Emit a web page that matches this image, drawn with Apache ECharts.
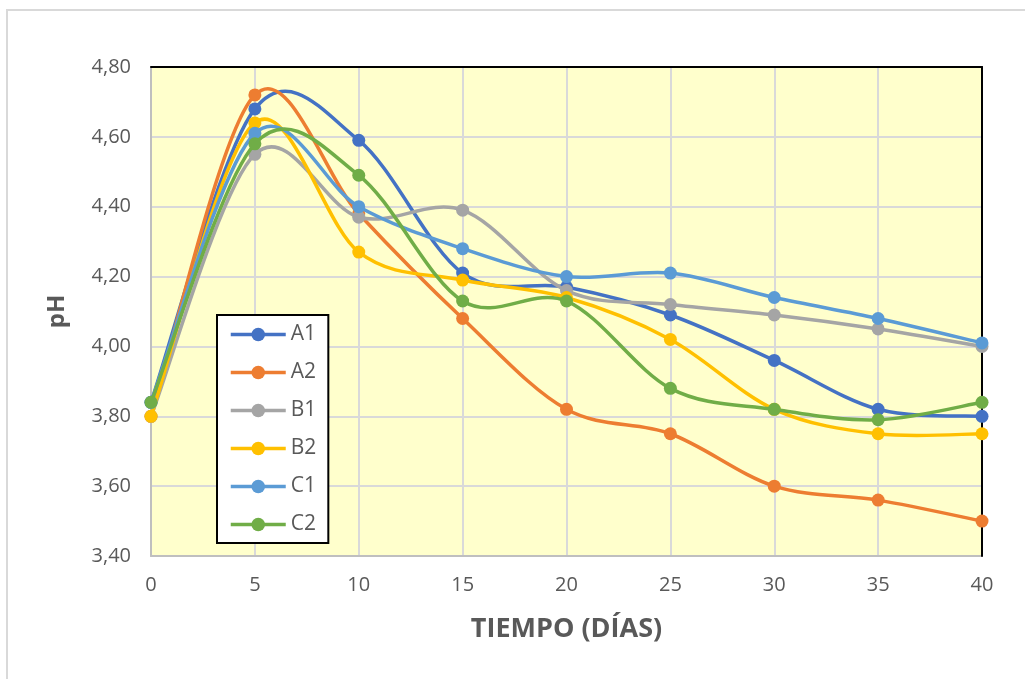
<!DOCTYPE html>
<html>
<head>
<meta charset="utf-8">
<script src="https://cdn.jsdelivr.net/npm/echarts@6/dist/echarts.min.js"></script>
<style>
  html, body { margin: 0; padding: 0; background: #fff; }
  #chart { width: 1025px; height: 679px; }
</style>
</head>
<body>
<div id="chart"></div>
<script>
// Sampling days
const days = [0, 5, 10, 15, 20, 25, 30, 35, 40];

// pH readings per treatment
const A1 = [3.84, 4.68, 4.59, 4.21, 4.17, 4.09, 3.96, 3.82, 3.80];
const A2 = [3.80, 4.72, 4.38, 4.08, 3.82, 3.75, 3.60, 3.56, 3.50];
const B1 = [3.80, 4.55, 4.37, 4.39, 4.16, 4.12, 4.09, 4.05, 4.00];
const B2 = [3.80, 4.64, 4.27, 4.19, 4.14, 4.02, 3.82, 3.75, 3.75];
const C1 = [3.84, 4.61, 4.40, 4.28, 4.20, 4.21, 4.14, 4.08, 4.01];
const C2 = [3.84, 4.58, 4.49, 4.13, 4.13, 3.88, 3.82, 3.79, 3.84];

const seriesNames = ['A1', 'A2', 'B1', 'B2', 'C1', 'C2'];
const seriesValues = [A1, A2, B1, B2, C1, C2];
const colors = ['#4472C4', '#ED7D31', '#A5A5A5', '#FFC000', '#5B9BD5', '#70AD47'];

const font = '"Open Sans", Lato, "DejaVu Sans", sans-serif';
const textGray = '#595959';
const LINE_W = 3.5;

// Smooth curve through the points (Catmull-Rom as cubic Bezier segments),
// positioned with the chart's own axis scales via api.coord.
function curveRenderer(values, color) {
  return function (params, api) {
    if (params.dataIndex !== 0) return null;
    const p = days.map((d, j) => api.coord([d, values[j]]));
    const n = p.length;
    const children = [];
    for (let j = 0; j < n - 1; j++) {
      const p0 = p[Math.max(j - 1, 0)];
      const p1 = p[j];
      const p2 = p[j + 1];
      const p3 = p[Math.min(j + 2, n - 1)];
      children.push({
        type: 'bezierCurve',
        shape: {
          x1: p1[0], y1: p1[1],
          cpx1: p1[0] + (p2[0] - p0[0]) / 6, cpy1: p1[1] + (p2[1] - p0[1]) / 6,
          cpx2: p2[0] - (p3[0] - p1[0]) / 6, cpy2: p2[1] - (p3[1] - p1[1]) / 6,
          x2: p2[0], y2: p2[1]
        },
        style: { stroke: color, lineWidth: LINE_W, fill: 'none', lineCap: 'round' }
      });
    }
    return { type: 'group', children: children };
  };
}

const series = [];
seriesNames.forEach((name, i) => {
  const pts = days.map((d, j) => [d, seriesValues[i][j]]);
  series.push({
    type: 'custom',
    name: name + ' curva',
    renderItem: curveRenderer(seriesValues[i], colors[i]),
    data: pts,
    encode: { x: 0, y: 1 },
    silent: true,
    z: 2 + i * 2
  });
  series.push({
    name: name,
    type: 'line',
    symbol: 'circle',
    symbolSize: 13,
    data: pts,
    lineStyle: { width: LINE_W, color: colors[i], opacity: 0 },
    itemStyle: { color: colors[i] },
    z: 3 + i * 2
  });
});

// Plain frame axes for the dark top and right edges of the plot area
const frameAxis = {
  axisLine: { show: true, onZero: false, lineStyle: { color: '#000', width: 2 } },
  axisTick: { show: false },
  axisLabel: { show: false },
  splitLine: { show: false }
};

const chart = echarts.init(document.getElementById('chart'), null, { renderer: 'canvas' });

chart.setOption({
  animation: false,
  color: colors,
  textStyle: { fontFamily: font },
  graphic: [{
    type: 'rect',
    shape: { x: 7, y: 10, width: 1040, height: 700 },
    style: { fill: 'none', stroke: '#D9D9D9', lineWidth: 2 },
    silent: true,
    z: -10
  }],
  grid: {
    left: 151, right: 43, top: 67, bottom: 123,
    show: true,
    backgroundColor: '#FFFFCC',
    borderColor: '#000',
    borderWidth: 0
  },
  legend: {
    orient: 'vertical',
    left: 217,
    top: 315,
    backgroundColor: '#fff',
    borderColor: '#000',
    borderWidth: 2,
    padding: [9, 12, 8, 12],
    itemWidth: 55,
    itemHeight: 17,
    itemGap: 17,
    lineStyle: { width: LINE_W, opacity: 1 },
    textStyle: { fontFamily: font, fontSize: 21, color: textGray },
    data: seriesNames
  },
  xAxis: [{
    type: 'value',
    min: 0, max: 40, interval: 5,
    name: 'TIEMPO (DÍAS)',
    nameLocation: 'middle',
    nameGap: 60,
    nameTextStyle: { fontFamily: font, fontSize: 27, fontWeight: 'bold', color: textGray },
    axisLine: { show: true, onZero: false, lineStyle: { color: '#BFBFBF', width: 2 } },
    axisTick: { show: false },
    axisLabel: { fontFamily: font, fontSize: 20, color: textGray, margin: 19 },
    splitLine: { show: true, lineStyle: { color: '#D9D9D9', width: 2 } },
    z: 0
  }, Object.assign({
    type: 'value', position: 'top', min: 0, max: 40, interval: 5, z: 1
  }, frameAxis)],
  yAxis: [{
    type: 'value',
    min: 3.4, max: 4.8, interval: 0.2,
    name: 'pH',
    nameLocation: 'middle',
    nameGap: 82,
    nameTextStyle: { fontFamily: font, fontSize: 24, fontWeight: 'bold', color: textGray },
    axisLine: { show: true, lineStyle: { color: '#BFBFBF', width: 2 } },
    axisTick: { show: false },
    axisLabel: {
      fontFamily: font, fontSize: 20, color: textGray, margin: 20,
      formatter: v => v.toFixed(2).replace('.', ',')
    },
    splitLine: { show: true, lineStyle: { color: '#D9D9D9', width: 2 } },
    z: 0
  }, Object.assign({
    type: 'value', position: 'right', min: 3.4, max: 4.8, interval: 0.2, z: 1
  }, frameAxis)],
  series: series
});
</script>
</body>
</html>
